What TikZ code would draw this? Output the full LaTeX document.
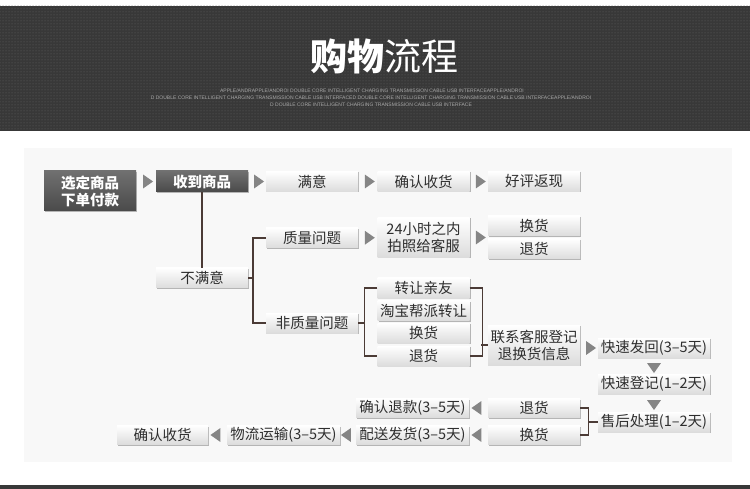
\documentclass[tikz,border=0pt]{standalone}
\usepackage{fontspec}
\setmainfont{Noto Sans CJK SC}
\newfontfamily\latinsans{Liberation Sans}
\usetikzlibrary{shapes.geometric, calc, shadows, patterns}
\definecolor{bandgray}{HTML}{383838}
\definecolor{panelgray}{HTML}{F8F8F8}
\definecolor{textgray}{HTML}{2E2E2E}
\definecolor{boxbottom}{HTML}{DCDCDC}
\definecolor{darktop}{HTML}{707070}
\definecolor{darkbottom}{HTML}{4A4A4A}
\definecolor{trigray}{HTML}{858585}
\definecolor{linkbrown}{HTML}{4B3B36}
\definecolor{subgray}{HTML}{A8A8A8}

\begin{document}
\begin{tikzpicture}[x=1pt, y=-1pt,
    box/.style={rectangle, minimum width=92, minimum height=20, inner sep=0pt, align=center, font=\fontsize{14.5}{17}\selectfont, text=textgray, top color=white, bottom color=boxbottom, drop shadow={shadow xshift=1pt, shadow yshift=-1pt, fill=black!40, opacity=.7}},
    dark/.style={box, top color=darktop, bottom color=darkbottom, text=white, font=\bfseries\fontsize{14.5}{17}\selectfont},
    wide/.style={box, minimum width=113},
    tri/.style={isosceles triangle, isosceles triangle apex angle=70, fill=trigray, inner sep=2.9pt, minimum size=0pt},
    rtri/.style={tri},
    dtri/.style={tri, shape border rotate=270},
    ltri/.style={tri, shape border rotate=180},
    link/.style={draw=linkbrown, line width=1.4pt},
    subline/.style={text=subgray, font=\latinsans\fontsize{5}{6}\selectfont, inner sep=0pt}
]
    \useasboundingbox (0,0) rectangle (750,489);
    \fill[bandgray] (0,6) rectangle (750,131);
    \fill[pattern=dots, pattern color=black!60] (0,6) rectangle (750,131);
    \fill[bandgray] (0,485) rectangle (750,489);
    \fill[panelgray] (24,148) rectangle (732,462);

    \node[text=white, font=\fontsize{37}{40}\selectfont, inner sep=0pt] (title) at (384,56) {{\bfseries 购物}流程};
    \node[subline] (sub1) at (372,91) {APPLE/ANDRAPPLE/ANDROI DOUBLE CORE INTELLIGENT CHARGING TRANSMISSION CABLE USB INTERFACEAPPLE/ANDROI};
    \node[subline] (sub2) at (371,98) {D DOUBLE CORE INTELLIGENT CHARGING TRANSMISSION CABLE USB INTERFACED DOUBLE CORE INTELLIGENT CHARGING TRANSMISSION CABLE USB INTERFACEAPPLE/ANDROI};
    \node[subline] (sub3) at (371,105) {D DOUBLE CORE INTELLIGENT CHARGING TRANSMISSION CABLE USB INTERFACE};

    \node[dark, minimum height=40] (buy) at (90,191) {选定商品\\下单付款};
    \node[dark, minimum height=21] (recv) at (202,181.5) {收到商品};
    \node[box] (ok) at (312,181.5) {满意};
    \node[box] (conf) at (423.5,181.5) {确认收货};
    \node[box] (praise) at (534,181.5) {好评返现};

    \node[box] (qual) at (312,238) {质量问题};
    \node[box, minimum height=40] (photo) at (423.5,237.5) {24小时之内\\拍照给客服};
    \node[box] (qexch) at (534,226) {换货};
    \node[box] (qret) at (534,249) {退货};

    \node[box] (unsat) at (202,278) {不满意};
    \node[box] (nonq) at (312,323) {非质量问题};
    \node[box] (give) at (423.5,288) {转让亲友};
    \node[box] (taobao) at (423.5,310.5) {淘宝帮派转让};
    \node[box] (nexch) at (423.5,333) {换货};
    \node[box] (nret) at (423.5,356) {退货};
    \node[box, minimum height=40] (contact) at (534,345) {联系客服登记\\退换货信息};

    \node[box, minimum width=112] (back) at (654,348) {快速发回(3–5天)};
    \node[box, minimum width=112] (reg) at (654,384) {快速登记(1–2天)};
    \node[box, minimum width=112] (after) at (654,422) {售后处理(1–2天)};
    \node[box, minimum height=19] (rret) at (534,408) {退货};
    \node[box, minimum height=19] (rexch) at (534,435) {换货};
    \node[wide, minimum height=19] (refund) at (412.5,408) {确认退款(3–5天)};
    \node[wide, minimum height=19] (ship) at (412.5,435) {配送发货(3–5天)};
    \node[wide, minimum height=19] (trans) at (283.5,435) {物流运输(3–5天)};
    \node[box, minimum width=91, minimum height=19] (done) at (162.5,435) {确认收货};

    \node[rtri] (t1) at ($(buy.east|-recv)!.5!(recv.west)$) {};
    \node[rtri] (t2) at ($(recv.east)!.5!(ok.west)$) {};
    \node[rtri] (t3) at ($(ok.east)!.5!(conf.west)$) {};
    \node[rtri] (t4) at ($(conf.east)!.5!(praise.west)$) {};
    \node[rtri] (t5) at ($(qual.east)!.5!(photo.west)$) {};
    \node[rtri] (t6) at ($(photo.east)!.5!(qexch.west|-photo)$) {};
    \node[rtri] (t7) at ($(contact.east|-back)!.5!(back.west)$) {};
    \node[dtri] (t8) at ($(back.south)!.5!(reg.north)$) {};
    \node[dtri] (t9) at ($(reg.south)!.5!(after.north)$) {};
    \node[ltri] (t10) at ($(rret.west)!.5!(refund.east)$) {};
    \node[ltri] (t11) at ($(rexch.west)!.5!(ship.east)$) {};
    \node[ltri] (t12) at ($(ship.west)!.5!(trans.east)$) {};
    \node[ltri] (t13) at ($(trans.west)!.5!(done.east)$) {};

    \draw[link] (recv.south) -- (unsat.north);
    \draw[link] (unsat.east) -- ++(5,0);
    \draw[link] (qual.west) -- ++(-13,0) |- (nonq.west);
    \draw[link] (nonq.east) -- ++(7,0);
    \draw[link] (give.west) -- ++(-13,0) |- (nret.west);
    \draw[link] (give.east) -- ++(13,0) |- (nret.east);
    \draw[link] (contact.west) -- ++(-7,0);
    \draw[link] (rret.east) -- ++(8,0) |- (rexch.east);
    \draw[link] (after.west) -- ++(-10,0);
\end{tikzpicture}
\end{document}
